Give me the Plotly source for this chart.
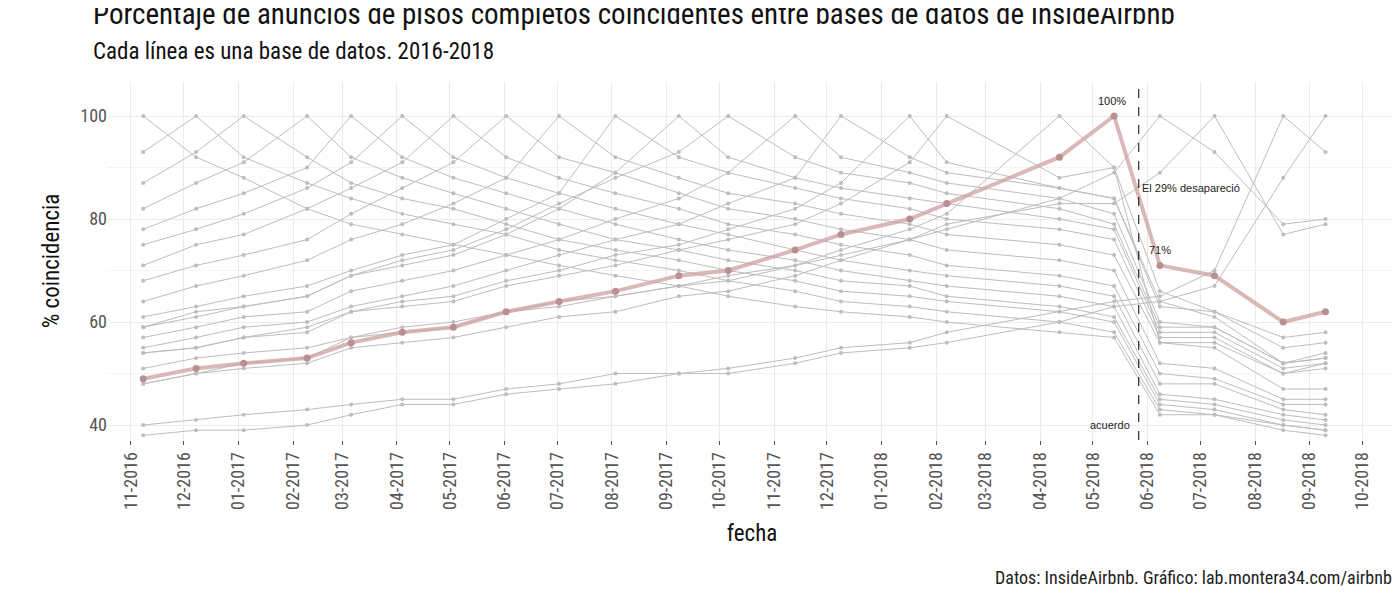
import plotly.graph_objects as go

# fechas de cada base de datos de InsideAirbnb
fechas = ["2016-11-08", "2016-12-08", "2017-01-04", "2017-02-09", "2017-03-06", "2017-04-04",
          "2017-05-03", "2017-06-02", "2017-07-02", "2017-08-03", "2017-09-08", "2017-10-06",
          "2017-11-13", "2017-12-09", "2018-01-17", "2018-02-07", "2018-04-12", "2018-05-13",
          "2018-06-08", "2018-07-09", "2018-08-17", "2018-09-10"]

# % de coincidencia de cada base (fila) con cada fecha (columna)
bases = [
    [100, 92, 88, 82, 79, 77, 75, 73, 71, 69, 67, 65, 63, 62, 61, 60, 58, 57, 42, 42, 39, 38],
    [93, 100, 92, 87, 84, 81, 79, 77, 74, 72, 70, 68, 66, 64, 63, 62, 60, 58, 43, 42, 40, 39],
    [87, 93, 100, 92, 87, 84, 82, 79, 76, 74, 72, 70, 68, 66, 65, 64, 62, 60, 44, 43, 40, 39],
    [82, 87, 91, 100, 92, 88, 85, 82, 79, 76, 74, 72, 70, 68, 67, 65, 63, 61, 45, 44, 41, 40],
    [78, 82, 85, 90, 100, 92, 88, 85, 82, 79, 76, 74, 72, 70, 68, 67, 65, 63, 46, 45, 42, 41],
    [75, 78, 81, 86, 91, 100, 92, 88, 85, 82, 79, 77, 74, 72, 70, 69, 67, 65, 48, 48, 43, 42],
    [71, 75, 77, 82, 86, 91, 100, 92, 88, 85, 82, 79, 77, 75, 73, 71, 69, 67, 50, 49, 44, 44],
    [68, 71, 73, 76, 81, 86, 91, 100, 92, 89, 85, 82, 80, 78, 76, 74, 72, 70, 52, 51, 45, 45],
    [64, 67, 69, 72, 76, 79, 83, 88, 100, 92, 88, 85, 83, 81, 79, 77, 75, 73, 56, 55, 47, 47],
    [61, 63, 65, 67, 70, 73, 75, 80, 85, 100, 92, 89, 86, 84, 82, 80, 78, 76, 57, 57, 50, 51],
    [59, 62, 63, 65, 69, 71, 73, 77, 82, 89, 100, 92, 88, 86, 84, 83, 80, 78, 58, 58, 51, 52],
    [59, 61, 63, 65, 69, 72, 74, 78, 83, 88, 93, 100, 92, 89, 87, 85, 82, 79, 59, 59, 52, 53],
    [57, 59, 61, 62, 66, 68, 70, 73, 76, 80, 84, 89, 100, 92, 89, 87, 84, 81, 60, 59, 52, 53],
    [55, 57, 59, 60, 63, 65, 67, 70, 73, 76, 79, 83, 88, 100, 92, 89, 86, 84, 63, 62, 55, 56],
    [54, 55, 57, 58, 62, 64, 65, 68, 70, 73, 75, 78, 82, 87, 100, 91, 86, 84, 64, 61, 52, 54],
    [54, 55, 57, 59, 62, 63, 64, 67, 69, 71, 74, 76, 79, 83, 91, 100, 88, 90, 66, 62, 57, 58],
    [51, 53, 54, 55, 57, 58, 59, 62, 63, 65, 67, 69, 71, 74, 78, 81, 100, 90, 56, 56, 50, 52],
    [49, 51, 52, 53, 56, 58, 59, 62, 64, 66, 69, 70, 74, 77, 80, 83, 92, 100, 71, 69, 60, 62],
    [48, 50, 51, 52, 55, 56, 57, 59, 61, 62, 65, 66, 69, 72, 76, 78, 84, 89, 100, 93, 79, 80],
    [48, 50, 52, 53, 57, 59, 60, 62, 64, 65, 67, 68, 71, 73, 76, 79, 83, 83, 89, 100, 77, 79],
    [40, 41, 42, 43, 44, 45, 45, 47, 48, 50, 50, 51, 53, 55, 56, 58, 62, 64, 65, 70, 100, 93],
    [38, 39, 39, 40, 42, 44, 44, 46, 47, 48, 50, 50, 52, 54, 55, 56, 60, 63, 64, 67, 88, 100],
]
destacada = 17  # base de mayo 2018
fecha_acuerdo = "2018-05-27"

meses = ["2016-11-01", "2016-12-01", "2017-01-01", "2017-02-01", "2017-03-01", "2017-04-01",
         "2017-05-01", "2017-06-01", "2017-07-01", "2017-08-01", "2017-09-01", "2017-10-01",
         "2017-11-01", "2017-12-01", "2018-01-01", "2018-02-01", "2018-03-01", "2018-04-01",
         "2018-05-01", "2018-06-01", "2018-07-01", "2018-08-01", "2018-09-01", "2018-10-01"]
etiquetas = [m[5:7] + "-" + m[:4] for m in meses]

FONT = "Roboto Condensed, Liberation Sans Narrow, Roboto, sans-serif"

fig = go.Figure()
for i, fila in enumerate(bases):
    if i == destacada:
        continue
    fig.add_trace(go.Scatter(x=fechas, y=fila, mode="lines+markers",
                             line=dict(color="#bdbdbd", width=1),
                             marker=dict(color="#bdbdbd", size=4), showlegend=False))

fig.add_trace(go.Scatter(x=fechas, y=bases[destacada], mode="lines+markers",
                         line=dict(color="rgba(205,160,160,0.75)", width=4),
                         marker=dict(color="#b89090", size=7), showlegend=False))

fig.add_vline(x=fecha_acuerdo, line=dict(color="black", width=1, dash="dash"))

txt = dict(size=11, color="#222", family="Liberation Sans, Arial")
fig.add_annotation(x=fechas[17], y=100, text="100%", showarrow=False, yshift=15, xshift=-2, font=txt)
fig.add_annotation(x=fechas[18], y=bases[destacada][18], text="71%", showarrow=False, yshift=15, font=txt)
fig.add_annotation(x=fecha_acuerdo, y=86, text="El 29% desapareció", showarrow=False,
                   xanchor="left", xshift=1, font=txt)
fig.add_annotation(x=fecha_acuerdo, y=40, text="acuerdo", showarrow=False,
                   xanchor="right", xshift=-7, font=txt)

# títulos y pie como anotaciones en papel
fig.add_annotation(x=-0.013, y=1.19, xref="paper", yref="paper", xanchor="left", yanchor="middle",
                   text="Porcentaje de anuncios de pisos completos coincidentes entre bases de datos de InsideAirbnb",
                   showarrow=False, font=dict(size=29, color="#111", family=FONT))
fig.add_annotation(x=-0.013, y=1.085, xref="paper", yref="paper", xanchor="left", yanchor="middle",
                   text="Cada línea es una base de datos. 2016-2018",
                   showarrow=False, font=dict(size=23, color="#111", family=FONT))
fig.add_annotation(x=1, y=-0.385, xref="paper", yref="paper", xanchor="right", yanchor="middle",
                   text="Datos: InsideAirbnb. Gráfico: lab.montera34.com/airbnb", showarrow=False,
                   xshift=-2, font=dict(size=18, color="#222", family=FONT))

fig.update_layout(
    width=1400, height=600,
    paper_bgcolor="white", plot_bgcolor="white",
    margin=dict(l=100, r=12, t=74, b=168),
    font=dict(family=FONT),
)
fig.update_xaxes(range=["2016-10-19", "2018-10-20"], tickvals=meses, ticktext=etiquetas,
                 tickangle=-90, tickfont=dict(size=18, color="#555"), showgrid=True,
                 gridcolor="#ebebeb", zeroline=False, ticks="outside", ticklen=4, tickcolor="#555",
                 title=dict(text="fecha", font=dict(size=23, color="#111")))
fig.update_yaxes(range=[37.1, 106.6], tickvals=[40, 60, 80, 100], tickfont=dict(size=18, color="#555"),
                 showgrid=True, gridcolor="#ebebeb", zeroline=False,
                 minor=dict(tickvals=[50, 70, 90], showgrid=True, gridcolor="#f4f4f4"),
                 title=dict(text="% coincidencia", font=dict(size=23, color="#111"), standoff=14))

fig.write_html("out.html")
